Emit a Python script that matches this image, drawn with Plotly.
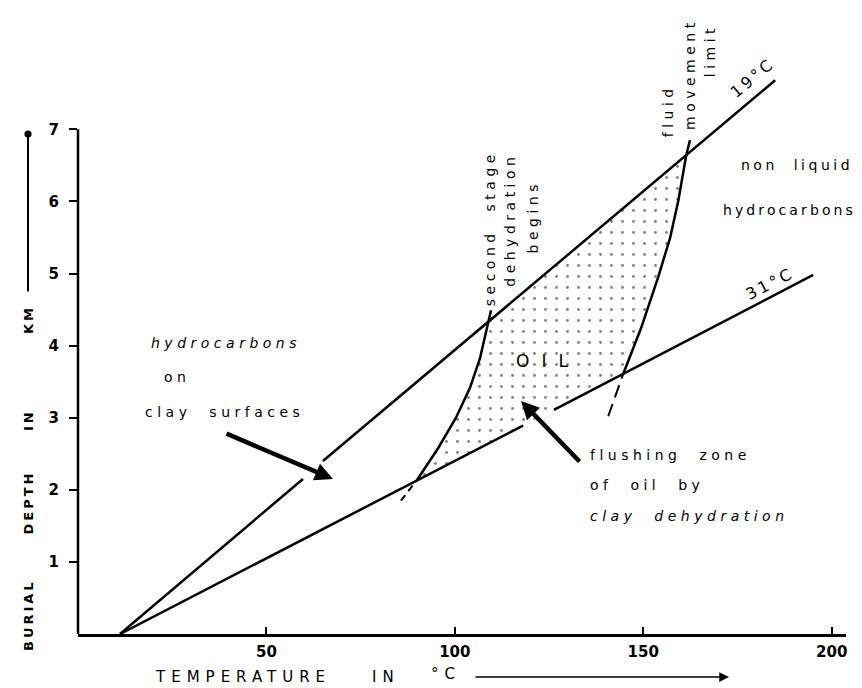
import json
import plotly.graph_objects as go

# ---------------- data (temperature in °C, burial depth in km) ----------------
iso19_T = [11.15, 59.7, None, 65.0, 185.0]
iso19_D = [0.0, 2.15, None, 2.40, 7.68]
iso31_T = [11.15, 118.1, None, 126.3, 195.1]
iso31_D = [0.0, 2.89, None, 3.11, 4.98]
stage2_T = [85.7, 90.0, 95.6, 100.3, 104.0, 106.7, 108.8, 109.6]
stage2_D = [1.85, 2.14, 2.58, 3.00, 3.41, 3.83, 4.32, 4.49]
fluid_T = [140.7, 144.7, 149.4, 153.9, 157.1, 159.3, 161.4, 162.4]
fluid_D = [3.02, 3.61, 4.24, 4.94, 5.49, 6.01, 6.64, 6.85]
x_tickvals = [50, 100, 150, 200]
y_tickvals = [1, 2, 3, 4, 5, 6, 7]
iso_labels = ["19°C", "31°C"]

# ---------------- layout geometry ----------------
W, H = 862, 688
ML, MR, MT, MB = 70, 24, 10, 62
PW = W - ML - MR
PH = H - MT - MB
X_RANGE = [0, 203.8]
Y_RANGE = [0, 8.544]
FONT = "DejaVu Sans"
INK = "black"


def paper(px, py):
    return (px - ML) / PW, (H - MB - py) / PH


fig = go.Figure()

# stippled oil zone bounded by both isotherms and both dehydration curves
poly_T = stage2_T[1:7] + fluid_T[1:7][::-1]
poly_D = stage2_D[1:7] + fluid_D[1:7][::-1]
fig.add_trace(go.Scatter(
    x=poly_T, y=poly_D, mode="none", fill="toself", fillcolor="white",
    fillpattern=dict(shape=".", fgcolor=INK, bgcolor="white", size=11, solidity=0.05),
    hoverinfo="skip"))

line_style = dict(color=INK, width=2.5)
fig.add_trace(go.Scatter(x=iso19_T, y=iso19_D, mode="lines", line=line_style, connectgaps=False))
fig.add_trace(go.Scatter(x=iso31_T, y=iso31_D, mode="lines", line=line_style, connectgaps=False))
fig.add_trace(go.Scatter(x=stage2_T[1:], y=stage2_D[1:], mode="lines", line=line_style))
fig.add_trace(go.Scatter(x=stage2_T[:2], y=stage2_D[:2], mode="lines",
                         line=dict(color=INK, width=2, dash="7px,5px")))
fig.add_trace(go.Scatter(x=fluid_T[1:], y=fluid_D[1:], mode="lines", line=line_style))
fig.add_trace(go.Scatter(x=fluid_T[:2], y=fluid_D[:2], mode="lines",
                         line=dict(color=INK, width=2, dash="13px,7px")))

ANN = []
LS = []


def add(text, px, py, size=14, ls=4.5, angle=0, xanchor="center", style="normal",
        weight="normal"):
    x, y = paper(px, py)
    ANN.append(dict(text=text, x=x, y=y, xref="paper", yref="paper", showarrow=False,
                    textangle=angle, xanchor=xanchor, yanchor="middle",
                    align="left" if xanchor == "left" else "center",
                    borderpad=0, borderwidth=0,
                    font=dict(family=FONT, size=size, color=INK, style=style, weight=weight)))
    LS.append(ls)


def arrow(tip_px, tip_py, tail_px, tail_py, width=4, head=2, size=0.9):
    x, y = paper(tip_px, tip_py)
    ANN.append(dict(text="", x=x, y=y, xref="paper", yref="paper", showarrow=True,
                    ax=tail_px - tip_px, ay=tail_py - tip_py, arrowhead=head,
                    arrowwidth=width, arrowsize=size, arrowcolor=INK))
    LS.append(0)


NB2 = "\u00a0\u00a0"
add("hydrocarbons", 143, 335, xanchor="left", style="italic")
add("on", 156, 369, xanchor="left")
add("clay" + NB2 + "surfaces", 137, 404, xanchor="left")
add("non" + NB2 + "liquid", 733, 157, ls=3.5, xanchor="left")
add("hydrocarbons", 715, 202, ls=3.1, xanchor="left")
add("OIL", 508, 353, size=17, ls=12, xanchor="left")
add("flushing" + NB2 + "zone", 582, 447, xanchor="left")
add("of" + NB2 + "oil" + NB2 + "by", 582, 477, xanchor="left")
add("clay" + NB2 + "dehydration", 582, 508, xanchor="left", style="italic")
add("second" + NB2 + "stage", 482, 220, angle=-90)
add("dehydration", 502, 212, angle=-90)
add("begins", 525, 209, angle=-90)
add("fluid", 660, 103, angle=-90)
add("movement", 682, 66, angle=-90)
add("limit", 702, 43, angle=-90)
add(iso_labels[0], 745, 70, size=16, ls=3, angle=-40)
add(iso_labels[1], 762, 275, size=16, ls=3, angle=-27)
# axis titles
add("TEMPERATURE", 147, 669, size=15, ls=6, xanchor="left")
add("IN", 364, 669, size=15, ls=6, xanchor="left")
add("°C", 423, 666, size=15, ls=6, xanchor="left")
add("BURIAL", 20, 607, size=13, ls=3, angle=-90, weight="bold")
add("DEPTH", 20, 495, size=13, ls=3, angle=-90, weight="bold")
add("IN", 20, 412, size=13, ls=3, angle=-90, weight="bold")
add("KM", 20, 312, size=13, ls=3, angle=-90, weight="bold")
# arrows
arrow(325, 471, 217, 425, width=4.5, head=2, size=0.8)
arrow(513, 393, 573, 455, width=4.5, head=2, size=0.8)
arrow(721, 669, 466, 669, width=1.5, head=2, size=1.3)
arrow(20, 126, 20, 285, width=2, head=6, size=0.9)

fig.update_layout(
    width=W, height=H,
    margin=dict(l=ML, r=MR, t=MT, b=MB),
    paper_bgcolor="white", plot_bgcolor="white",
    showlegend=False,
    annotations=ANN,
    shapes=[dict(type="line", xref="paper", yref="y", x0=0, x1=0, y0=0, y1=7,
                 line=dict(color=INK, width=2.5))],
    xaxis=dict(range=X_RANGE, showgrid=False, zeroline=False, showline=True, automargin=False,
               linecolor=INK, linewidth=2.5, ticks="inside", ticklen=7, tickwidth=2,
               tickcolor=INK, tickvals=x_tickvals, ticktext=[str(v) for v in x_tickvals],
               tickfont=dict(family=FONT, size=15, color=INK, weight="bold"),
               ticklabelstandoff=2),
    yaxis=dict(range=Y_RANGE, showgrid=False, zeroline=False, showline=False, automargin=False,
               ticks="outside", ticklen=8, tickwidth=2, tickcolor=INK,
               tickvals=y_tickvals, ticktext=[str(v) for v in y_tickvals],
               tickfont=dict(family=FONT, size=15, color=INK, weight="bold"),
               ticklabelstandoff=7),
)

css = "\n".join(
    '.annotation[data-index="%d"] text {letter-spacing:%spx;}' % (i, ls)
    for i, ls in enumerate(LS) if ls)
post = ("var s=document.createElement('style');s.textContent=%s;"
        "document.head.appendChild(s);" % json.dumps(css))
fig.write_html("out.html", post_script=post)
